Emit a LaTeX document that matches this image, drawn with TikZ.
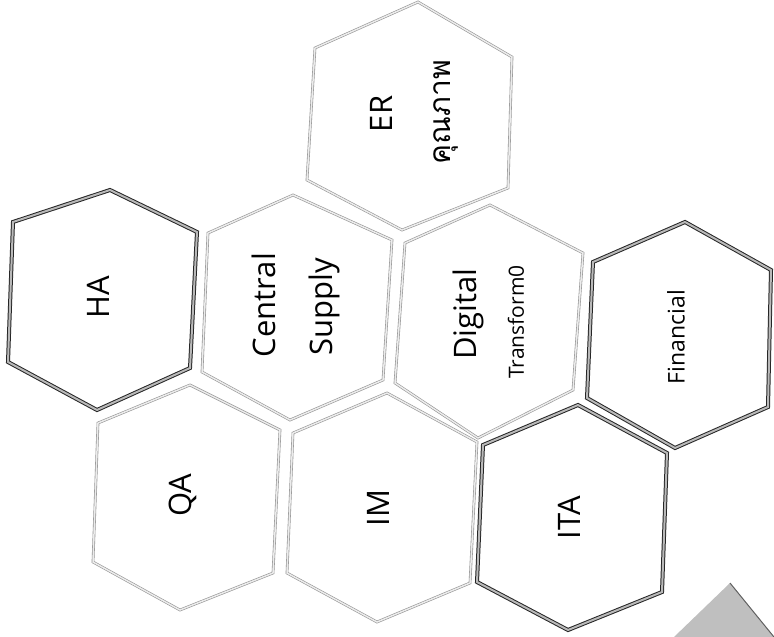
\documentclass[tikz,border=0pt]{standalone}
\usepackage{fontspec}
\setmainfont{Open Sans}
\newfontfamily\thaifont[Script=Thai]{Loma}
\begin{document}
\begin{tikzpicture}[x=1pt,y=-1pt,
  lighthex/.style={draw=gray!85, line width=0.6pt, double=gray!15, double distance=1.5pt, line join=miter},
  darkhex/.style={draw=black!85, line width=1pt, double=gray!55, double distance=2pt, line join=miter},
  lbl/.style={inner sep=0pt, rotate=90, text=black},
  big/.style={lbl, font=\fontsize{31}{36}\selectfont},
  small/.style={lbl, font=\fontsize{21}{24}\selectfont}]
\useasboundingbox (0,0) rectangle (774,637);
% hexagons
\draw[lighthex] (315,48) -- (418,2) -- (512,57) -- (508,188) -- (402,230) -- (307,180) -- cycle;
\draw[darkhex] (13,222) -- (110,190) -- (197,232) -- (190,368) -- (97,410) -- (8,362) -- cycle;
\draw[lighthex] (208,233) -- (293,195) -- (392,240) -- (383,380) -- (290,420) -- (202,372) -- cycle;
\draw[lighthex] (405,243) -- (490,205) -- (583,253) -- (573,390) -- (478,438) -- (395,383) -- cycle;
\draw[darkhex] (593,262) -- (685,222) -- (771,270) -- (768,407) -- (675,448) -- (587,398) -- cycle;
\draw[lighthex] (98,423) -- (190,385) -- (280,430) -- (273,573) -- (180,610) -- (93,562) -- cycle;
\draw[lighthex] (293,433) -- (387,393) -- (477,442) -- (470,583) -- (377,622) -- (287,573) -- cycle;
\draw[darkhex] (483,445) -- (578,405) -- (667,453) -- (662,592) -- (568,630) -- (477,582) -- cycle;
% corner triangle
\fill[gray!50] (730,583) -- (774,637) -- (674,637) -- cycle;
\draw[gray!75!black, line width=1pt] (730,583) -- (774,637);
% labels
\node[big] (er) at (381,114) {ER};
\node[lbl, font=\thaifont\fontsize{30}{34}\selectfont] (erth) at (446,112) {คุณภาพ};
\node[big] (ha) at (98,297) {HA};
\node[big] (cen) at (264,305) {Central};
\node[big] (sup) at (324,307) {Supply};
\node[big] (dig) at (468,314) {Digital};
\node[small] (tra) at (516,322) {Transform0};
\node[lbl, font=\fontsize{23}{26}\selectfont] (fin) at (676,337) {Financial};
\node[big] (qa) at (183,495) {QA};
\node[big] (im) at (378,508) {IM};
\node[big] (ita) at (569,518) {ITA};
\end{tikzpicture}
\end{document}
